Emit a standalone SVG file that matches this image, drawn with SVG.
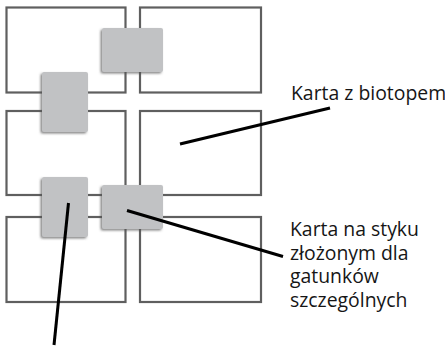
<svg xmlns="http://www.w3.org/2000/svg" width="445" height="347" viewBox="0 0 445 347">
  <defs>
    <filter id="sh" x="-20%" y="-20%" width="140%" height="140%">
      <feDropShadow dx="-1.5" dy="1.5" stdDeviation="1" flood-color="#555" flood-opacity="0.7"/>
    </filter>
  </defs>
  <style>
    .card { fill: #ffffff; stroke: #5f5f5f; stroke-width: 2.2; }
    .joint { fill: #c1c2c4; filter: url(#sh); }
    .lead { stroke: #000; stroke-width: 3; fill: none; }
    .lbl { font-family: "Open Sans", "Liberation Sans", sans-serif; font-size: 19.4px; fill: #161616; }
  </style>
  <rect width="445" height="347" fill="#ffffff"/>
  <g id="card-r1c1"><rect class="card" x="6.5" y="7.5" width="119" height="85"/></g>
  <g id="card-r1c2"><rect class="card" x="140" y="7.5" width="121" height="85"/></g>
  <g id="card-r2c1"><rect class="card" x="6.5" y="111" width="119" height="84"/></g>
  <g id="card-r2c2"><rect class="card" x="140" y="111" width="121" height="84"/></g>
  <g id="card-r3c1"><rect class="card" x="6.5" y="217" width="119" height="85"/></g>
  <g id="card-r3c2"><rect class="card" x="140" y="217" width="121" height="85"/></g>
  <g id="joint-top"><rect class="joint" x="102" y="28" width="61" height="44" rx="2"/></g>
  <g id="joint-left"><rect class="joint" x="42" y="72" width="46" height="60" rx="2"/></g>
  <g id="joint-bottom-left"><rect class="joint" x="42" y="177" width="46" height="60" rx="2"/></g>
  <g id="joint-bottom-right"><rect class="joint" x="102" y="185" width="61" height="44" rx="2"/></g>
  <g id="connectors">
    <line class="lead" x1="180" y1="144" x2="330" y2="108"/>
    <line class="lead" x1="127" y1="210.5" x2="283" y2="256.5"/>
    <line class="lead" x1="68.5" y1="203" x2="54" y2="345"/>
  </g>
  <g id="label-biotop"><text class="lbl" x="291" y="99.5">Karta z biotopem</text></g>
  <g id="label-styk">
    <text class="lbl" x="290" y="235.5">Karta na styku</text>
    <text class="lbl" x="290" y="259.5">złożonym dla</text>
    <text class="lbl" x="290" y="283">gatunków</text>
    <text class="lbl" x="290" y="306.5">szczególnych</text>
  </g>
</svg>
